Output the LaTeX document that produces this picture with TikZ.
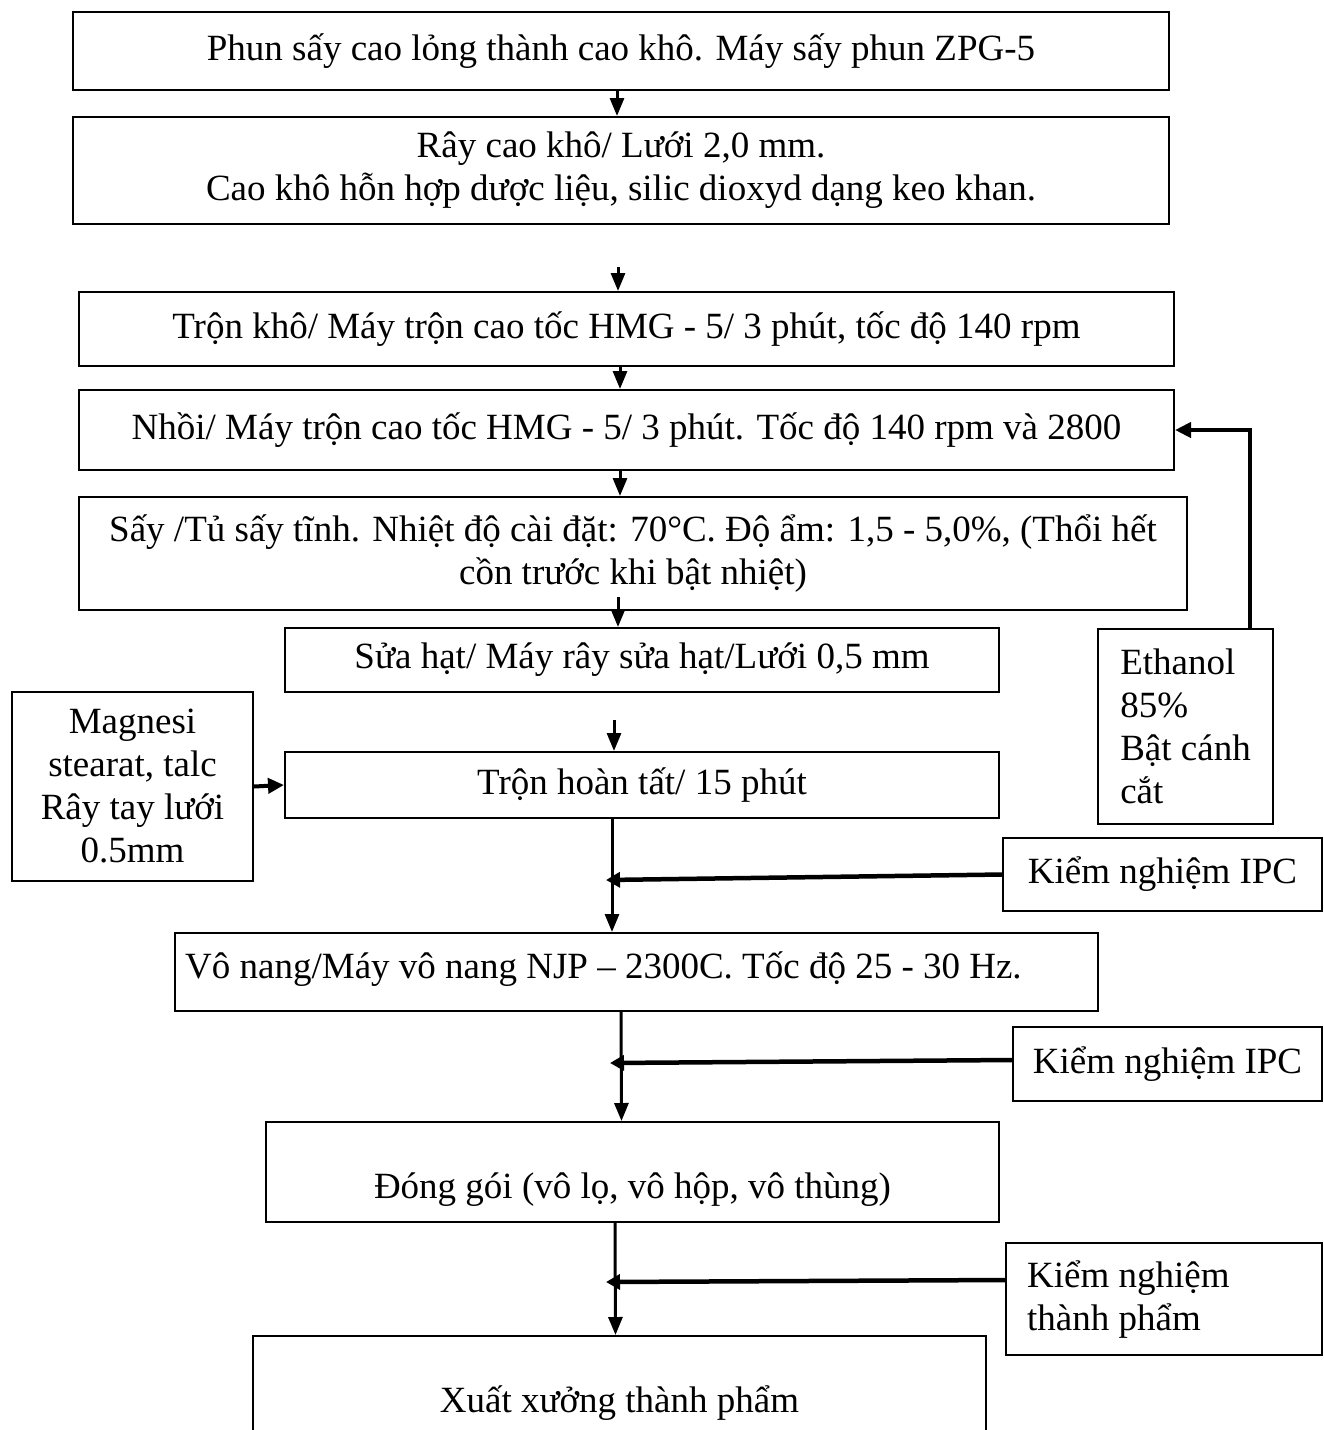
\documentclass[tikz,border=0pt]{standalone}
\usepackage{fontspec}
\setmainfont{Liberation Serif}
\usetikzlibrary{arrows.meta}
\begin{document}
\begin{tikzpicture}[x=1pt,y=-1pt,
  every node/.style={font=\fontsize{37}{43}\selectfont, inner sep=0pt},
  box/.style={draw, line width=2pt, align=center},
  txt/.style={align=left},
  arr/.style={line width=3pt, -{Triangle[length=18pt,width=14pt]}},
  harr/.style={line width=4.5pt, -{Triangle[length=14pt,width=15pt]}},
  farr/.style={line width=4pt, -{Triangle[length=16pt,width=15pt]}}]
\useasboundingbox[fill=white] (0,0) rectangle (1324,1430);

% main chain
\node[box, minimum width=1096pt, minimum height=78pt] (b1) at (621,51)
  {Phun sấy cao lỏng thành cao khô. Máy sấy phun ZPG-5};
\node[box, minimum width=1096pt, minimum height=107pt] (b2) at (621,170.5)
  {Rây cao khô/ Lưới 2,0 mm.\\Cao khô hỗn hợp dược liệu, silic dioxyd dạng keo khan.};
\node[box, minimum width=1095pt, minimum height=74pt] (b3) at (626.5,329)
  {Trộn khô/ Máy trộn cao tốc HMG - 5/ 3 phút, tốc độ 140 rpm};
\node[box, minimum width=1095pt, minimum height=80pt] (b4) at (626.5,430)
  {Nhồi/ Máy trộn cao tốc HMG - 5/ 3 phút. Tốc độ 140 rpm và 2800};
\node[box, minimum width=1108pt, minimum height=113pt] (b5) at (633,553.5)
  {Sấy /Tủ sấy tĩnh. Nhiệt độ cài đặt: 70°C. Độ ẩm: 1,5 - 5,0\%, (Thổi hết\\cồn trước khi bật nhiệt)};
\node[box, minimum width=714pt, minimum height=64pt] (b6) at (642,660)
  {Sửa hạt/ Máy rây sửa hạt/Lưới 0,5 mm};
\node[box, minimum width=714pt, minimum height=66pt] (b7) at (642,785)
  {Trộn hoàn tất/ 15 phút};
\node[box, minimum width=923pt, minimum height=78pt] (b8) at (636.5,972) {};
\node[txt, anchor=west] (t8) at (185,969)
  {Vô nang/Máy vô nang NJP – 2300C. Tốc độ 25 - 30 Hz.};
\node[box, minimum width=733pt, minimum height=100pt] (b9) at (632.5,1172) {};
\node (t9) at (632.5,1190) {Đóng gói (vô lọ, vô hộp, vô thùng)};
\node[box, minimum width=733pt, minimum height=134pt] (b10) at (619.5,1403)
  {Xuất xưởng thành phẩm};

% side boxes
\node[box, minimum width=241pt, minimum height=189pt] (mag) at (132.5,786.5)
  {Magnesi\\stearat, talc\\Rây tay lưới\\0.5mm};
\node[box, align=left, minimum width=175pt, minimum height=195pt] (eth) at (1185.5,726.5)
  {Ethanol\\85\%\\Bật cánh\\cắt};
\node[box, minimum width=319pt, minimum height=73pt] (kn1) at (1162.5,874.5)
  {Kiểm nghiệm IPC};
\node[box, minimum width=309pt, minimum height=74pt] (kn2) at (1167.5,1064)
  {Kiểm nghiệm IPC};
\node[box, minimum width=316pt, minimum height=112pt] (kntp) at (1164,1299) {};
\node[txt, anchor=west] (ttp) at (1027,1300) {Kiểm nghiệm\\thành phẩm};

% junction / free-end coordinates
\coordinate (f1) at (618,267);
\coordinate (f2) at (618,597);
\coordinate (f3) at (614,720);
\coordinate (j1) at (606,880);
\coordinate (j2) at (610,1063);
\coordinate (j3) at (606,1282);

% vertical connectors
\draw[arr] ([xshift=-4pt]b1.south) -- ([xshift=-4pt]b2.north);
\draw[arr] (f1) -- (f1 |- b3.north);
\draw[arr] ([xshift=-6.5pt]b3.south) -- ([xshift=-6.5pt]b4.north);
\draw[arr] ([xshift=-6.5pt]b4.south) -- ([xshift=-13pt]b5.north);
\draw[arr] (f2) -- (f2 |- b6.north);
\draw[arr] (f3) -- (f3 |- b7.north);
\draw[arr] ([xshift=-30pt]b7.south) -- ([xshift=-24.5pt]b8.north);
\draw[arr] ([xshift=-15.5pt]b8.south) -- ([xshift=-11pt]b9.north);
\draw[arr] ([xshift=-17.5pt]b9.south) -- ([xshift=-4pt]b10.north);

% side connectors
\draw[harr] (kn1.west) -- (j1);
\draw[harr] ([yshift=4pt]kn2.west) -- (j2);
\draw[harr] ([yshift=19pt]kntp.west) -- (j3);
\draw[farr] (mag.east) -- (b7.west);
\draw[farr] ([xshift=64.5pt]eth.north) |- (b4.east);
\end{tikzpicture}
\end{document}
